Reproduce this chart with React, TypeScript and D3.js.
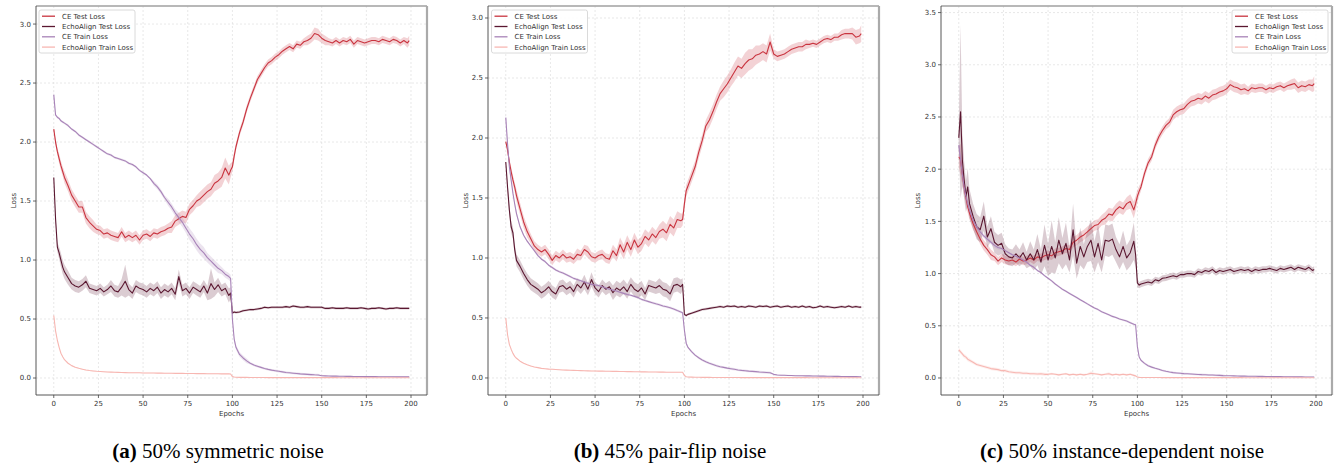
import React from 'react';
import * as d3 from 'd3';

// ---------- categories ----------
const epochs: number[] = [
  0, 1, 2, 3, 4, 5, 6,
  8, 10, 12, 14, 16, 18, 20, 22, 24, 26, 28, 30, 32, 34, 36, 38, 40, 42, 44, 46, 48,
  50, 52, 54, 56, 58, 60, 62, 64, 66, 68, 70, 72, 74, 76, 78, 80, 82, 84, 86, 88, 90, 92, 94, 96, 98,
  99, 100, 101,
  102, 104, 106, 108, 110, 112, 114, 116, 118, 120, 122, 124, 126, 128, 130, 132, 134, 136, 138, 140, 142, 144, 146, 148,
  150, 152, 154, 156, 158, 160, 162, 164, 166, 168, 170, 172, 174, 176, 178, 180, 182, 184, 186, 188, 190, 192, 194, 196, 198,
  199,
];
const seriesNames = ['CE Test Loss', 'EchoAlign Test Loss', 'CE Train Loss', 'EchoAlign Train Loss'];
const xTicks = [0, 25, 50, 75, 100, 125, 150, 175, 200];
const yTicksAB = [0, 0.5, 1.0, 1.5, 2.0, 2.5, 3.0];
const yTicksC = [0, 0.5, 1.0, 1.5, 2.0, 2.5, 3.0, 3.5];
const captionLabels = ['(a)', '(b)', '(c)'];
const captionTexts = [' 50% symmetric noise', ' 45% pair-flip noise', ' 50% instance-dependent noise'];

// ---------- (a) 50% symmetric noise ----------
const aCeTest = [
  2.11, 2.00, 1.92, 1.86, 1.80, 1.75, 1.70,
  1.63, 1.55, 1.50, 1.45, 1.45, 1.36, 1.32, 1.29, 1.26, 1.25, 1.22, 1.23, 1.21, 1.20, 1.19, 1.24, 1.19, 1.21, 1.19, 1.21, 1.17,
  1.21, 1.22, 1.20, 1.23, 1.22, 1.24, 1.25, 1.27, 1.28, 1.33, 1.35, 1.37, 1.36, 1.43, 1.46, 1.50, 1.52, 1.55, 1.58, 1.60, 1.65, 1.67, 1.70, 1.78, 1.72,
  1.76, 1.79, 1.88,
  1.96, 2.08, 2.17, 2.28, 2.37, 2.45, 2.53, 2.58, 2.63, 2.67, 2.69, 2.72, 2.74, 2.77, 2.79, 2.81, 2.79, 2.83, 2.82, 2.85, 2.86, 2.88, 2.92, 2.91,
  2.88, 2.86, 2.85, 2.84, 2.86, 2.84, 2.86, 2.85, 2.87, 2.83, 2.86, 2.85, 2.84, 2.85, 2.86, 2.86, 2.85, 2.87, 2.86, 2.85, 2.87, 2.86, 2.84, 2.86, 2.84,
  2.86,
];
const aCeTestBand = [
  .02, .03, .03, .04, .04, .04, .05,
  .05, .05, .05, .05, .05, .05, .05, .05, .04, .04, .04, .04, .04, .04, .04, .04, .04, .04, .04, .04, .04,
  .04, .04, .04, .04, .04, .04, .04, .04, .05, .05, .05, .05, .05, .05, .05, .05, .06, .06, .06, .06, .07, .07, .08, .09, .08,
  .06, .04, .04,
  .03, .03, .03, .03, .03, .03, .03, .03, .03, .03, .03, .03, .03, .03, .03, .03, .03, .03, .03, .03, .04, .04, .05, .05,
  .04, .04, .03, .03, .03, .03, .03, .03, .03, .03, .03, .03, .03, .03, .03, .03, .03, .03, .03, .03, .03, .03, .03, .03, .04,
  .04,
];
const aEaTest = [
  1.70, 1.35, 1.11, 1.06, 1.00, 0.94, 0.90,
  0.85, 0.80, 0.78, 0.77, 0.79, 0.82, 0.76, 0.75, 0.74, 0.76, 0.73, 0.75, 0.78, 0.74, 0.73, 0.77, 0.82, 0.75, 0.72, 0.78, 0.76,
  0.75, 0.73, 0.76, 0.74, 0.77, 0.72, 0.75, 0.73, 0.76, 0.71, 0.86, 0.74, 0.76, 0.72, 0.77, 0.75, 0.73, 0.78, 0.72, 0.80, 0.75, 0.79, 0.74, 0.76, 0.70,
  0.72, 0.55, 0.56,
  0.555, 0.56, 0.57, 0.575, 0.58, 0.58, 0.585, 0.59, 0.60, 0.595, 0.60, 0.60, 0.60, 0.60, 0.605, 0.60, 0.61, 0.605, 0.60, 0.60, 0.605, 0.60, 0.60, 0.60,
  0.60, 0.59, 0.59, 0.595, 0.59, 0.59, 0.59, 0.595, 0.59, 0.59, 0.59, 0.595, 0.59, 0.585, 0.59, 0.59, 0.595, 0.59, 0.585, 0.59, 0.59, 0.595, 0.59, 0.59, 0.59,
  0.59,
];
const aEaTestBand = [
  .00, .03, .04, .05, .06, .06, .06,
  .06, .05, .05, .05, .05, .05, .04, .04, .04, .04, .04, .04, .05, .05, .05, .07, .14, .05, .05, .05, .05,
  .05, .05, .05, .05, .05, .05, .05, .05, .05, .05, .06, .05, .05, .05, .05, .05, .05, .05, .06, .13, .06, .06, .05, .05, .06,
  .05, .01, .01,
  .01, .01, .01, .01, .01, .01, .01, .01, .01, .01, .01, .01, .01, .01, .01, .01, .01, .01, .01, .01, .01, .01, .01, .01,
  .01, .01, .01, .01, .01, .01, .01, .01, .01, .01, .01, .01, .01, .01, .01, .01, .01, .01, .01, .01, .01, .01, .01, .01, .01,
  .01,
];
const aCeTrain = [
  2.40, 2.23, 2.21, 2.20, 2.18, 2.17, 2.16,
  2.14, 2.11, 2.09, 2.06, 2.04, 2.02, 2.00, 1.98, 1.96, 1.94, 1.92, 1.90, 1.89, 1.87, 1.86, 1.85, 1.84, 1.82, 1.81, 1.79, 1.76,
  1.74, 1.72, 1.69, 1.65, 1.62, 1.58, 1.53, 1.49, 1.45, 1.40, 1.36, 1.32, 1.27, 1.22, 1.18, 1.13, 1.09, 1.06, 1.02, 0.99, 0.96, 0.93, 0.91, 0.88, 0.86,
  0.845, 0.50, 0.33,
  0.26, 0.20, 0.17, 0.145, 0.125, 0.11, 0.10, 0.09, 0.08, 0.073, 0.067, 0.062, 0.057, 0.052, 0.047, 0.044, 0.041, 0.038, 0.035, 0.033, 0.031, 0.029, 0.027, 0.026,
  0.019, 0.018, 0.017, 0.016, 0.016, 0.015, 0.015, 0.014, 0.014, 0.013, 0.013, 0.013, 0.012, 0.012, 0.012, 0.012, 0.011, 0.011, 0.011, 0.011, 0.011, 0.010, 0.010, 0.010, 0.010,
  0.010,
];
const aCeTrainBand = [
  .04, .01, .01, .01, .01, .01, .01,
  .01, .01, .01, .01, .01, .01, .01, .01, .01, .01, .01, .01, .01, .01, .01, .01, .01, .01, .01, .01, .01,
  .01, .01, .01, .02, .02, .02, .02, .03, .03, .03, .04, .04, .04, .05, .05, .05, .05, .05, .04, .04, .04, .04, .03, .03, .03,
  .03, .03, .02,
  .02, .02, .02, .02, .01, .01, .01, .01, .01, .01, .01, .01, .01, .01, .01, .01, .01, .01, .01, .01, .01, .01, .01, .01,
  .005, .005, .005, .005, .005, .005, .005, .005, .005, .005, .005, .005, .005, .005, .005, .005, .005, .005, .005, .005, .005, .005, .005, .005, .005,
  .005,
];
const aEaTrain = [
  0.53, 0.40, 0.32, 0.26, 0.21, 0.18, 0.155,
  0.125, 0.105, 0.092, 0.082, 0.075, 0.068, 0.063, 0.060, 0.057, 0.055, 0.053, 0.051, 0.050, 0.049, 0.048, 0.047, 0.046, 0.045, 0.045, 0.044, 0.044,
  0.043, 0.043, 0.042, 0.042, 0.041, 0.041, 0.040, 0.040, 0.040, 0.039, 0.039, 0.039, 0.038, 0.038, 0.038, 0.037, 0.037, 0.037, 0.036, 0.036, 0.036, 0.036, 0.035, 0.035, 0.035,
  0.034, 0.012, 0.008,
  0.006, 0.005, 0.005, 0.005, 0.004, 0.004, 0.004, 0.004, 0.004, 0.003, 0.003, 0.003, 0.003, 0.003, 0.003, 0.003, 0.003, 0.003, 0.003, 0.003, 0.003, 0.003, 0.003, 0.003,
  0.003, 0.003, 0.003, 0.003, 0.003, 0.002, 0.002, 0.002, 0.002, 0.002, 0.002, 0.002, 0.002, 0.002, 0.002, 0.002, 0.002, 0.002, 0.002, 0.002, 0.002, 0.002, 0.002, 0.002, 0.002,
  0.002,
];
const aEaTrainBand = [
  .01, .006, .005, .004, .004, .004, .004,
  .004, .004, .004, .004, .004, .004, .004, .004, .004, .004, .004, .004, .004, .004, .004, .004, .004, .004, .004, .004, .004,
  .004, .004, .004, .004, .004, .004, .004, .004, .004, .004, .004, .004, .004, .004, .004, .004, .004, .004, .004, .004, .004, .004, .004, .004, .004,
  .004, .004, .003,
  .003, .003, .003, .003, .003, .003, .003, .003, .003, .003, .003, .003, .003, .003, .003, .003, .003, .003, .003, .003, .003, .003, .003, .003,
  .002, .002, .002, .002, .002, .002, .002, .002, .002, .002, .002, .002, .002, .002, .002, .002, .002, .002, .002, .002, .002, .002, .002, .002, .002,
  .002,
];

// ---------- (b) 45% pair-flip noise ----------
const bCeTest = [
  1.97, 1.90, 1.80, 1.72, 1.65, 1.59, 1.52,
  1.41, 1.30, 1.22, 1.16, 1.10, 1.07, 1.05, 1.07, 1.03, 0.98, 1.02, 1.00, 1.03, 1.00, 1.01, 0.99, 1.03, 1.02, 1.07, 1.05, 1.01,
  1.00, 1.02, 1.03, 1.00, 0.99, 1.06, 1.02, 1.11, 1.05, 1.13, 1.07, 1.15, 1.09, 1.12, 1.18, 1.15, 1.20, 1.17, 1.22, 1.24, 1.21, 1.28, 1.25, 1.32, 1.31,
  1.32, 1.45, 1.56,
  1.60, 1.68, 1.76, 1.88, 1.98, 2.10, 2.15, 2.22, 2.30, 2.37, 2.41, 2.45, 2.50, 2.55, 2.60, 2.58, 2.62, 2.65, 2.66, 2.69, 2.70, 2.72, 2.70, 2.80,
  2.70, 2.68, 2.69, 2.70, 2.72, 2.74, 2.75, 2.76, 2.76, 2.78, 2.78, 2.79, 2.78, 2.80, 2.82, 2.83, 2.82, 2.84, 2.84, 2.86, 2.87, 2.87, 2.87, 2.84, 2.85,
  2.87,
];
const bCeTestBand = [
  .02, .03, .03, .04, .04, .04, .05,
  .05, .05, .05, .04, .04, .04, .04, .04, .04, .04, .04, .04, .04, .04, .04, .04, .05, .04, .04, .05, .04,
  .04, .04, .04, .04, .04, .05, .05, .06, .06, .06, .06, .06, .06, .06, .06, .06, .06, .06, .06, .07, .07, .07, .07, .07, .06,
  .05, .05, .05,
  .05, .05, .05, .05, .05, .05, .06, .06, .06, .06, .07, .07, .07, .08, .08, .08, .09, .09, .08, .08, .07, .07, .07, .07,
  .04, .04, .04, .04, .04, .04, .04, .04, .04, .04, .03, .03, .03, .03, .03, .03, .03, .03, .03, .04, .04, .04, .05, .06, .06,
  .07,
];
const bEaTest = [
  1.80, 1.59, 1.40, 1.26, 1.21, 1.07, 0.98,
  0.93, 0.87, 0.82, 0.78, 0.76, 0.74, 0.71, 0.73, 0.76, 0.72, 0.70, 0.76, 0.77, 0.74, 0.76, 0.72, 0.78, 0.75, 0.80, 0.74, 0.82,
  0.75, 0.72, 0.77, 0.74, 0.76, 0.71, 0.75, 0.73, 0.76, 0.72, 0.78, 0.74, 0.72, 0.75, 0.70, 0.77, 0.76, 0.75, 0.77, 0.74, 0.73, 0.70, 0.77, 0.78, 0.76,
  0.78, 0.53, 0.52,
  0.53, 0.54, 0.55, 0.56, 0.57, 0.575, 0.58, 0.585, 0.59, 0.595, 0.59, 0.60, 0.595, 0.60, 0.59, 0.595, 0.59, 0.60, 0.595, 0.59, 0.60, 0.595, 0.60, 0.59,
  0.595, 0.60, 0.59, 0.595, 0.60, 0.59, 0.595, 0.59, 0.60, 0.59, 0.595, 0.585, 0.59, 0.60, 0.59, 0.595, 0.59, 0.585, 0.59, 0.595, 0.59, 0.60, 0.59, 0.595, 0.59,
  0.59,
];
const bEaTestBand = [
  .00, .04, .05, .05, .05, .05, .05,
  .05, .05, .05, .05, .05, .05, .05, .05, .05, .05, .05, .05, .05, .05, .05, .05, .05, .05, .06, .05, .06,
  .05, .05, .05, .05, .05, .06, .06, .06, .06, .06, .06, .06, .06, .06, .05, .05, .05, .05, .06, .06, .06, .06, .06, .06, .06,
  .05, .01, .01,
  .01, .01, .01, .01, .01, .01, .01, .01, .01, .01, .01, .01, .01, .01, .01, .01, .01, .01, .01, .01, .01, .01, .01, .01,
  .01, .01, .01, .01, .01, .01, .01, .01, .01, .01, .01, .01, .01, .01, .01, .01, .01, .01, .01, .01, .01, .01, .01, .01, .01,
  .01,
];
const bCeTrain = [
  2.17, 1.95, 1.76, 1.65, 1.54, 1.45, 1.37,
  1.26, 1.19, 1.14, 1.10, 1.06, 1.02, 0.99, 0.97, 0.94, 0.92, 0.90, 0.886, 0.875, 0.86, 0.845, 0.83, 0.82, 0.81, 0.80, 0.79, 0.78,
  0.775, 0.77, 0.76, 0.75, 0.74, 0.733, 0.725, 0.715, 0.705, 0.695, 0.69, 0.68, 0.67, 0.655, 0.645, 0.636, 0.627, 0.618, 0.61, 0.60, 0.594, 0.585, 0.575, 0.562, 0.55,
  0.544, 0.40, 0.29,
  0.255, 0.22, 0.19, 0.168, 0.15, 0.135, 0.122, 0.112, 0.102, 0.094, 0.088, 0.082, 0.077, 0.072, 0.067, 0.063, 0.060, 0.057, 0.055, 0.053, 0.050, 0.048, 0.046, 0.044,
  0.030, 0.025, 0.023, 0.022, 0.021, 0.020, 0.019, 0.018, 0.018, 0.017, 0.017, 0.016, 0.016, 0.015, 0.015, 0.014, 0.014, 0.013, 0.013, 0.012, 0.012, 0.011, 0.011, 0.011, 0.010,
  0.010,
];
const bCeTrainBand = [
  .04, .03, .03, .02, .02, .02, .02,
  .01, .01, .01, .01, .01, .01, .01, .01, .01, .01, .01, .01, .01, .01, .01, .01, .01, .01, .01, .01, .01,
  .01, .01, .01, .01, .01, .01, .01, .01, .01, .01, .01, .01, .01, .01, .01, .01, .01, .01, .01, .01, .01, .01, .01, .01, .01,
  .01, .02, .02,
  .01, .01, .01, .01, .01, .01, .01, .01, .01, .01, .01, .01, .01, .01, .01, .01, .01, .01, .01, .01, .01, .01, .01, .01,
  .005, .005, .005, .005, .005, .005, .005, .005, .005, .005, .005, .005, .005, .005, .005, .005, .005, .005, .005, .005, .005, .005, .005, .005, .005,
  .005,
];
const bEaTrain = [
  0.50, 0.36, 0.28, 0.24, 0.205, 0.18, 0.164,
  0.14, 0.122, 0.11, 0.10, 0.092, 0.086, 0.080, 0.077, 0.074, 0.072, 0.070, 0.068, 0.066, 0.065, 0.064, 0.063, 0.062, 0.061, 0.060, 0.059, 0.058,
  0.058, 0.057, 0.057, 0.056, 0.056, 0.055, 0.055, 0.054, 0.054, 0.053, 0.053, 0.052, 0.052, 0.051, 0.051, 0.050, 0.050, 0.050, 0.049, 0.049, 0.048, 0.048, 0.048, 0.047, 0.047,
  0.047, 0.02, 0.01,
  0.008, 0.007, 0.006, 0.006, 0.005, 0.005, 0.005, 0.004, 0.004, 0.004, 0.004, 0.004, 0.004, 0.004, 0.004, 0.003, 0.003, 0.003, 0.003, 0.003, 0.003, 0.003, 0.003, 0.003,
  0.003, 0.003, 0.003, 0.003, 0.003, 0.003, 0.003, 0.003, 0.003, 0.003, 0.002, 0.002, 0.002, 0.002, 0.002, 0.002, 0.002, 0.002, 0.002, 0.002, 0.002, 0.002, 0.002, 0.002, 0.002,
  0.002,
];
const bEaTrainBand = [
  .01, .006, .005, .004, .004, .004, .004,
  .004, .004, .004, .004, .004, .004, .004, .004, .004, .004, .004, .004, .004, .004, .004, .004, .004, .004, .004, .004, .004,
  .004, .004, .004, .004, .004, .004, .004, .004, .004, .004, .004, .004, .004, .004, .004, .004, .004, .004, .004, .004, .004, .004, .004, .004, .004,
  .004, .004, .003,
  .003, .003, .003, .003, .003, .003, .003, .003, .003, .003, .003, .003, .003, .003, .003, .003, .003, .003, .003, .003, .003, .003, .003, .003,
  .002, .002, .002, .002, .002, .002, .002, .002, .002, .002, .002, .002, .002, .002, .002, .002, .002, .002, .002, .002, .002, .002, .002, .002, .002,
  .002,
];

// ---------- (c) 50% instance-dependent noise ----------
const cCeTest = [
  2.12, 2.09, 1.95, 1.83, 1.73, 1.64, 1.58,
  1.48, 1.40, 1.33, 1.27, 1.23, 1.18, 1.16, 1.12, 1.15, 1.13, 1.12, 1.13, 1.11, 1.14, 1.12, 1.13, 1.15, 1.13, 1.16, 1.15, 1.17,
  1.18, 1.17, 1.20, 1.21, 1.22, 1.24, 1.23, 1.30, 1.32, 1.35, 1.37, 1.40, 1.43, 1.46, 1.47, 1.51, 1.53, 1.57, 1.56, 1.61, 1.64, 1.62, 1.67, 1.69, 1.61,
  1.67, 1.74, 1.79,
  1.83, 1.96, 2.06, 2.12, 2.23, 2.31, 2.37, 2.42, 2.45, 2.52, 2.55, 2.57, 2.58, 2.62, 2.65, 2.66, 2.68, 2.67, 2.70, 2.68, 2.71, 2.72, 2.74, 2.75,
  2.77, 2.81, 2.79, 2.78, 2.76, 2.77, 2.75, 2.78, 2.77, 2.78, 2.78, 2.76, 2.78, 2.77, 2.79, 2.80, 2.78, 2.80, 2.81, 2.82, 2.78, 2.80, 2.79, 2.81, 2.80,
  2.82,
];
const cCeTestBand = [
  .10, .15, .10, .08, .07, .06, .06,
  .06, .05, .05, .05, .05, .05, .04, .04, .04, .04, .04, .04, .04, .04, .04, .04, .04, .04, .04, .04, .04,
  .04, .04, .04, .04, .04, .04, .04, .05, .05, .05, .05, .05, .05, .05, .05, .05, .06, .06, .06, .06, .06, .06, .06, .07, .08,
  .07, .06, .05,
  .04, .04, .04, .04, .04, .04, .04, .04, .04, .05, .05, .05, .05, .05, .05, .05, .05, .05, .05, .05, .05, .05, .05, .05,
  .05, .05, .05, .05, .05, .05, .04, .04, .04, .04, .04, .04, .04, .04, .04, .04, .04, .04, .05, .05, .05, .05, .05, .05, .06,
  .07,
];
const cEaTest = [
  2.30, 2.55, 2.09, 1.90, 1.74, 1.83, 1.67,
  1.55, 1.45, 1.42, 1.55, 1.35, 1.43, 1.30, 1.27, 1.29, 1.19, 1.16, 1.15, 1.19, 1.15, 1.20, 1.13, 1.19, 1.13, 1.23, 1.11, 1.27,
  1.13, 1.26, 1.15, 1.32, 1.19, 1.29, 1.13, 1.42, 1.10, 1.26, 1.16, 1.26, 1.32, 1.16, 1.29, 1.13, 1.32, 1.31, 1.33, 1.23, 1.16, 1.26, 1.15, 1.20, 1.31,
  1.18, 0.91, 0.89,
  0.90, 0.91, 0.92, 0.91, 0.94, 0.93, 0.955, 0.96, 0.97, 0.98, 0.97, 0.99, 0.99, 1.00, 1.00, 0.99, 1.02, 1.01, 1.03, 1.02, 1.04, 1.01, 1.03, 1.02,
  1.03, 1.04, 1.02, 1.03, 1.04, 1.03, 1.04, 1.02, 1.04, 1.03, 1.04, 1.04, 1.05, 1.04, 1.03, 1.05, 1.04, 1.05, 1.06, 1.04, 1.06, 1.05, 1.04, 1.06, 1.03,
  1.04,
];
const cEaTestBand = [
  .10, .83, .25, .18, .15, .18, .14,
  .12, .12, .12, .14, .10, .12, .10, .10, .10, .09, .08, .08, .09, .08, .10, .08, .12, .10, .15, .12, .20,
  .15, .25, .15, .22, .15, .20, .12, .25, .15, .18, .12, .15, .20, .15, .18, .12, .15, .15, .15, .12, .12, .15, .12, .13, .18,
  .12, .04, .03,
  .03, .03, .03, .03, .03, .03, .03, .03, .03, .03, .03, .03, .03, .03, .03, .03, .03, .03, .03, .03, .03, .03, .03, .03,
  .03, .03, .03, .03, .03, .03, .03, .03, .03, .03, .03, .03, .03, .03, .03, .03, .03, .03, .03, .03, .03, .03, .03, .03, .03,
  .03,
];
const cCeTrain = [
  2.23, 2.09, 1.95, 1.83, 1.74, 1.67, 1.61,
  1.51, 1.45, 1.40, 1.36, 1.33, 1.30, 1.27, 1.25, 1.24, 1.22, 1.20, 1.18, 1.165, 1.15, 1.13, 1.11, 1.08, 1.06, 1.03, 1.01, 0.98,
  0.955, 0.93, 0.90, 0.875, 0.85, 0.83, 0.81, 0.79, 0.77, 0.75, 0.73, 0.71, 0.69, 0.67, 0.655, 0.635, 0.62, 0.605, 0.59, 0.58, 0.565, 0.555, 0.545, 0.53, 0.515,
  0.51, 0.30, 0.20,
  0.17, 0.14, 0.118, 0.104, 0.093, 0.084, 0.072, 0.064, 0.057, 0.051, 0.048, 0.045, 0.042, 0.040, 0.038, 0.036, 0.034, 0.032, 0.031, 0.029, 0.028, 0.026, 0.025, 0.023,
  0.022, 0.021, 0.020, 0.019, 0.018, 0.018, 0.017, 0.016, 0.016, 0.015, 0.015, 0.014, 0.014, 0.013, 0.013, 0.013, 0.012, 0.012, 0.012, 0.011, 0.011, 0.011, 0.010, 0.010, 0.010,
  0.010,
];
const cCeTrainBand = [
  .06, .08, .06, .05, .05, .04, .04,
  .03, .03, .03, .02, .02, .02, .02, .02, .01, .01, .01, .01, .01, .01, .01, .01, .01, .01, .01, .01, .01,
  .01, .01, .01, .01, .01, .01, .01, .01, .01, .01, .01, .01, .01, .01, .01, .01, .01, .01, .01, .01, .01, .01, .01, .01, .01,
  .01, .01, .01,
  .01, .01, .01, .01, .01, .01, .01, .01, .01, .01, .01, .01, .01, .01, .01, .01, .01, .01, .01, .01, .01, .01, .01, .01,
  .005, .005, .005, .005, .005, .005, .005, .005, .005, .005, .005, .005, .005, .005, .005, .005, .005, .005, .005, .005, .005, .005, .005, .005, .005,
  .005,
];
const cEaTrain = [
  0.27, 0.25, 0.23, 0.21, 0.20, 0.18, 0.17,
  0.15, 0.13, 0.12, 0.11, 0.10, 0.09, 0.085, 0.08, 0.07, 0.07, 0.06, 0.055, 0.05, 0.05, 0.045, 0.045, 0.04, 0.04, 0.038, 0.04, 0.035,
  0.035, 0.04, 0.035, 0.03, 0.035, 0.04, 0.03, 0.035, 0.03, 0.035, 0.03, 0.035, 0.045, 0.04, 0.035, 0.03, 0.035, 0.04, 0.03, 0.035, 0.03, 0.035, 0.03, 0.035, 0.025,
  0.02, 0.01, 0.006,
  0.005, 0.005, 0.004, 0.004, 0.004, 0.004, 0.003, 0.003, 0.003, 0.003, 0.003, 0.003, 0.003, 0.003, 0.003, 0.003, 0.003, 0.003, 0.003, 0.003, 0.003, 0.003, 0.003, 0.003,
  0.003, 0.003, 0.003, 0.003, 0.003, 0.002, 0.002, 0.002, 0.002, 0.002, 0.002, 0.002, 0.002, 0.002, 0.002, 0.002, 0.002, 0.002, 0.002, 0.002, 0.002, 0.002, 0.002, 0.002, 0.002,
  0.002,
];
const cEaTrainBand = [
  .02, .02, .02, .02, .02, .02, .02,
  .015, .015, .015, .015, .015, .015, .015, .015, .015, .015, .015, .015, .015, .015, .015, .015, .015, .015, .015, .015, .015,
  .01, .01, .01, .01, .01, .01, .01, .01, .01, .01, .01, .01, .02, .01, .01, .01, .01, .015, .01, .01, .01, .01, .01, .01, .01,
  .01, .005, .005,
  .004, .004, .004, .004, .004, .004, .004, .004, .004, .004, .004, .004, .004, .004, .004, .004, .004, .004, .004, .004, .004, .004, .004, .004,
  .003, .003, .003, .003, .003, .003, .003, .003, .003, .003, .003, .003, .003, .003, .003, .003, .003, .003, .003, .003, .003, .003, .003, .003, .003,
  .003,
];

// ---------- style ----------
const colors = ['#c9343f', '#5a1730', '#a883b8', '#f7b7b2'];
const SANS = "'DejaVu Sans', sans-serif";
const SERIF = "'Liberation Serif', 'Times New Roman', serif";

type PanelCfg = {
  left: number; right: number; top: number; bottom: number;
  yDomain: [number, number]; yTicks: number[];
  values: number[][]; bands: number[][];
  legendX: number; ylabelX: number; captionX: number;
};

const panels: PanelCfg[] = [
  {
    left: 36, right: 427, top: 6, bottom: 395, yDomain: [-0.144, 3.153], yTicks: yTicksAB,
    values: [aCeTest, aEaTest, aCeTrain, aEaTrain], bands: [aCeTestBand, aEaTestBand, aCeTrainBand, aEaTrainBand],
    legendX: 39, ylabelX: 14, captionX: 218,
  },
  {
    left: 488, right: 879, top: 6, bottom: 395, yDomain: [-0.142, 3.1], yTicks: yTicksAB,
    values: [bCeTest, bEaTest, bCeTrain, bEaTrain], bands: [bCeTestBand, bEaTestBand, bCeTrainBand, bEaTrainBand],
    legendX: 491.5, ylabelX: 466, captionX: 670,
  },
  {
    left: 941, right: 1332, top: 6, bottom: 395, yDomain: [-0.163, 3.563], yTicks: yTicksC,
    values: [cCeTest, cEaTest, cCeTrain, cEaTrain], bands: [cCeTestBand, cEaTestBand, cCeTrainBand, cEaTrainBand],
    legendX: 1232, ylabelX: 918, captionX: 1122,
  },
];

function Panel({ cfg, idx }: { cfg: PanelCfg; idx: number }) {
  const x = d3.scaleLinear().domain([-9.95, 208.95]).range([cfg.left, cfg.right]);
  const y = d3.scaleLinear().domain(cfg.yDomain).range([cfg.bottom, cfg.top]);
  const clipId = `clip-${idx}`;
  const line = (vals: number[]) =>
    d3.line<number>().x((_, i) => x(epochs[i])).y((v) => y(v))(vals) || '';
  const area = (vals: number[], band: number[]) =>
    d3.area<number>()
      .x((_, i) => x(epochs[i]))
      .y0((v, i) => y(v - band[i]))
      .y1((v, i) => y(v + band[i]))(vals) || '';
  const fmt = d3.format('.1f');
  const lgW = 96, lgH = 43, lgY = 10;
  return (
    <g>
      <defs>
        <clipPath id={clipId}>
          <rect x={cfg.left} y={cfg.top} width={cfg.right - cfg.left} height={cfg.bottom - cfg.top} />
        </clipPath>
      </defs>
      {xTicks.map((t) => (
        <line key={'gx' + t} x1={x(t)} x2={x(t)} y1={cfg.top} y2={cfg.bottom}
          stroke="#d9d9d9" strokeWidth={0.6} strokeDasharray="2,2" />
      ))}
      {cfg.yTicks.map((t) => (
        <line key={'gy' + t} x1={cfg.left} x2={cfg.right} y1={y(t)} y2={y(t)}
          stroke="#d9d9d9" strokeWidth={0.6} strokeDasharray="2,2" />
      ))}
      <g clipPath={`url(#${clipId})`}>
        {cfg.values.map((vals, k) => (
          <path key={'b' + k} d={area(vals, cfg.bands[k])} fill={colors[k]} fillOpacity={0.22} stroke="none" />
        ))}
        {cfg.values.map((vals, k) => (
          <path key={'l' + k} d={line(vals)} fill="none" stroke={colors[k]} strokeWidth={1.1} strokeLinejoin="round" />
        ))}
      </g>
      <line x1={cfg.left} x2={cfg.right} y1={cfg.top} y2={cfg.top} stroke="#a0a0a0" strokeWidth={1.3} />
      <line x1={cfg.right} x2={cfg.right} y1={cfg.top} y2={cfg.bottom} stroke="#aaaaaa" strokeWidth={2.2} />
      <line x1={cfg.left} x2={cfg.left} y1={cfg.top} y2={cfg.bottom} stroke="#444" strokeWidth={0.9} />
      <line x1={cfg.left} x2={cfg.right} y1={cfg.bottom} y2={cfg.bottom} stroke="#444" strokeWidth={0.9} />
      {xTicks.map((t) => (
        <g key={'xt' + t}>
          <line x1={x(t)} x2={x(t)} y1={cfg.bottom} y2={cfg.bottom + 3} stroke="#444" strokeWidth={0.8} />
          <text x={x(t)} y={cfg.bottom + 11} textAnchor="middle" fontFamily={SANS} fontSize={7} fill="#333">{t}</text>
        </g>
      ))}
      {cfg.yTicks.map((t) => (
        <g key={'yt' + t}>
          <line x1={cfg.left - 3} x2={cfg.left} y1={y(t)} y2={y(t)} stroke="#444" strokeWidth={0.8} />
          <text x={cfg.left - 5} y={y(t)} dy="0.35em" textAnchor="end" fontFamily={SANS} fontSize={7} fill="#333">{fmt(t)}</text>
        </g>
      ))}
      <text x={(cfg.left + cfg.right) / 2} y={cfg.bottom + 21} textAnchor="middle" fontFamily={SANS} fontSize={7} fill="#333">Epochs</text>
      <text transform={`translate(${cfg.ylabelX},${(cfg.top + cfg.bottom) / 2}) rotate(-90)`} dy="0.35em" textAnchor="middle"
        fontFamily={SANS} fontSize={7} fill="#333">Loss</text>
      <rect x={cfg.legendX} y={lgY} width={lgW} height={lgH} rx={2} fill="#fff" fillOpacity={0.85} stroke="#d0d0d0" strokeWidth={0.8} />
      {seriesNames.map((nm, k) => (
        <g key={'lg' + k}>
          <line x1={cfg.legendX + 3} x2={cfg.legendX + 16} y1={lgY + 6.2 + k * 10.3} y2={lgY + 6.2 + k * 10.3}
            stroke={colors[k]} strokeWidth={1.3} />
          <text x={cfg.legendX + 23} y={lgY + 6.2 + k * 10.3} dy="0.35em" fontFamily={SANS} fontSize={7} fill="#333">{nm}</text>
        </g>
      ))}
      <text x={cfg.captionX} y={458} textAnchor="middle" fontFamily={SERIF} fontSize={21} fill="#000">
        <tspan fontWeight="bold">{captionLabels[idx]}</tspan>{captionTexts[idx]}
      </text>
    </g>
  );
}

export default function App() {
  return (
    <svg width={1341} height={468} viewBox="0 0 1341 468"
      style={{ position: 'absolute', left: 0, top: 0, background: '#fff' }}>
      <rect x={0} y={0} width={1341} height={468} fill="#fff" />
      {panels.map((p, i) => <Panel key={i} cfg={p} idx={i} />)}
    </svg>
  );
}
